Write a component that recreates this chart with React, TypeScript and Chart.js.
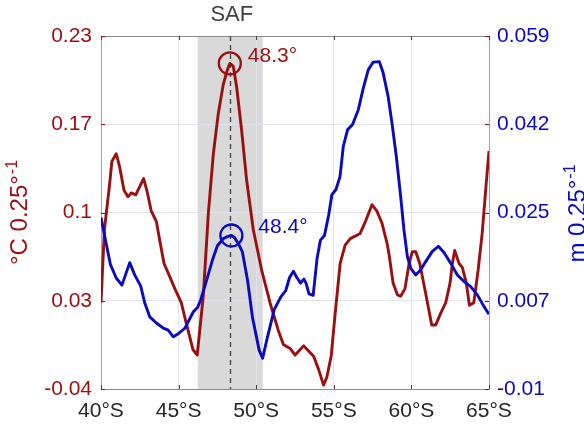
import { useEffect, useRef } from 'react';
import { Chart, registerables } from 'chart.js';

Chart.register(...registerables);

// Latitude axis (degrees south)
const LAT_MIN = 40;
const LAT_MAX = 65;
const LAT_TICKS = [40, 45, 50, 55, 60, 65];
const LAT_TICK_LABELS = ['40°S', '45°S', '50°S', '55°S', '60°S', '65°S'];

// Left axis: temperature gradient (°C per 0.25°)
const TEMP_MIN = -0.04;
const TEMP_MAX = 0.23;
const TEMP_TICK_LABELS = ['-0.04', '0.03', '0.1', '0.17', '0.23'];

// Right axis: sea-level gradient (m per 0.25°)
const SAL_MIN = -0.01;
const SAL_MAX = 0.059;
const SAL_TICK_LABELS = ['-0.01', '0.007', '0.025', '0.042', '0.059'];

// Temperature gradient profile
const TEMP_LAT = [
  40.0, 40.22, 40.54, 40.7, 40.98, 41.2, 41.48, 41.74, 41.95, 42.24, 42.5, 42.75,
  42.99, 43.24, 43.57, 43.78, 44.06, 44.43, 44.75, 45.17, 45.5, 45.93, 46.2, 46.59,
  46.92, 47.24, 47.56, 47.88, 48.14, 48.3, 48.52, 48.74, 49.06, 49.38, 49.81, 50.35,
  50.89, 51.42, 51.75, 52.18, 52.51, 53.05, 53.7, 54.02, 54.34, 54.55, 54.83, 55.09,
  55.41, 55.73, 56.06, 56.7, 57.07, 57.46, 57.78, 58.1, 58.42, 58.56, 58.82, 59.1,
  59.31, 59.59, 59.85, 60.06, 60.28, 60.54, 60.92, 61.31, 61.57, 61.89, 62.21, 62.49,
  62.64, 62.79, 63.07, 63.28, 63.54, 63.74, 64.02, 64.3, 64.56, 64.82, 65.0,
];
const TEMP_VALUES = [
  0.026, 0.082, 0.115, 0.134, 0.14, 0.13, 0.112, 0.107, 0.11, 0.1085, 0.115, 0.121,
  0.11, 0.096, 0.088, 0.074, 0.056, 0.046, 0.037, 0.026, 0.01, -0.01, -0.014, 0.031,
  0.095, 0.14, 0.171, 0.193, 0.204, 0.209, 0.207, 0.191, 0.158, 0.12, 0.082, 0.051,
  0.026, 0.005, -0.006, -0.009, -0.014, -0.007, -0.015, -0.025, -0.037, -0.031, -0.015, 0.018,
  0.056, 0.07, 0.075, 0.079, 0.089, 0.101, 0.096, 0.087, 0.072, 0.063, 0.041, 0.032,
  0.031, 0.037, 0.056, 0.065, 0.065, 0.056, 0.033, 0.009, 0.009, 0.018, 0.026, 0.041,
  0.056, 0.066, 0.056, 0.053, 0.041, 0.024, 0.026, 0.051, 0.079, 0.117, 0.142,
];

// Sea-level gradient profile
const SAL_LAT = [
  40.0, 40.33, 40.61, 40.98, 41.35, 41.85, 42.17, 42.56, 42.82, 43.14, 43.57, 44.01,
  44.33, 44.66, 44.98, 45.41, 45.95, 46.23, 46.42, 46.75, 47.18, 47.5, 47.88, 48.15,
  48.4, 48.6, 48.85, 49.11, 49.44, 49.76, 50.19, 50.41, 50.73, 51.16, 51.59, 51.91,
  52.15, 52.4, 52.62, 52.86, 53.08, 53.22, 53.4, 53.67, 53.92, 54.14, 54.4, 54.67,
  54.88, 55.14, 55.4, 55.61, 55.89, 56.21, 56.58, 56.9, 57.22, 57.54, 57.93, 58.18,
  58.5, 58.77, 59.03, 59.31, 59.52, 59.74, 59.96, 60.28, 60.6, 60.92, 61.35, 61.74,
  62.1, 62.53, 62.96, 63.39, 63.82, 64.25, 64.68, 65.0,
];
const SAL_VALUES = [
  0.0235, 0.0185, 0.0143, 0.0117, 0.0103, 0.0147, 0.0123, 0.0101, 0.0068, 0.0041, 0.0029, 0.0019,
  0.0015, 0.0002, 0.0008, 0.0019, 0.0051, 0.006, 0.0074, 0.0107, 0.0152, 0.018, 0.0194, 0.0198,
  0.02, 0.0196, 0.0184, 0.0168, 0.0113, 0.004, -0.0024, -0.004, 0.0002, 0.0055, 0.008, 0.0093,
  0.0118, 0.013, 0.0118, 0.0107, 0.0115, 0.0106, 0.0086, 0.0083, 0.0155, 0.0191, 0.02, 0.024,
  0.028, 0.029, 0.0315, 0.0374, 0.0407, 0.0417, 0.0446, 0.0488, 0.0524, 0.0539, 0.054, 0.0518,
  0.0472, 0.0415, 0.0354, 0.0276, 0.0211, 0.0159, 0.0136, 0.0123, 0.0133, 0.0149, 0.0169, 0.0179,
  0.0167, 0.0146, 0.0123, 0.011, 0.01, 0.0084, 0.0061, 0.0046,
];

// Subantarctic Front: shaded band, front position and the two peaks
const FRONT_NAME = 'SAF';
const FRONT_BAND = [46.23, 50.42];
const FRONT_LAT = 48.3;
const TEMP_PEAK_LAT = 48.3;
const TEMP_PEAK_VALUE = 0.209;
const SAL_PEAK_LAT = 48.4;
const SAL_PEAK_VALUE = 0.02;

const LEFT_TITLE = '°C 0.25°';
const RIGHT_TITLE = 'm 0.25°';
const TITLE_SUP = '-1';

const FONT = '"Liberation Sans", Arial, Helvetica, sans-serif';
const RED = '#9a1010';
const BLUE = '#0a0ac0';
const GRID = '#e2e2ee';
const FRAME = '#8c8c8c';

const toPoints = (xs: number[], ys: number[]) => xs.map((x, i) => ({ x, y: ys[i] }));

const evenTicks = (min: number, max: number, n: number) =>
  Array.from({ length: n }, (_, i) => ({ value: min + (i * (max - min)) / (n - 1) }));

function drawRotatedTitle(
  ctx: CanvasRenderingContext2D,
  baselineX: number,
  centerY: number,
  main: string,
  sup: string,
  color: string,
) {
  ctx.save();
  ctx.translate(baselineX, centerY);
  ctx.rotate(-Math.PI / 2);
  ctx.fillStyle = color;
  ctx.textBaseline = 'alphabetic';
  ctx.textAlign = 'left';
  ctx.font = `24px ${FONT}`;
  const w1 = ctx.measureText(main).width;
  ctx.font = `16px ${FONT}`;
  const w2 = ctx.measureText(sup).width;
  const start = -(w1 + w2 + 1) / 2;
  ctx.font = `24px ${FONT}`;
  ctx.fillText(main, start, 0);
  ctx.font = `16px ${FONT}`;
  ctx.fillText(sup, start + w1 + 1, -10);
  ctx.restore();
}

const frontDecor = {
  id: 'frontDecor',
  beforeDraw(chart: any) {
    const { ctx, chartArea: a, scales } = chart;
    const x0 = scales.x.getPixelForValue(FRONT_BAND[0]);
    const x1 = scales.x.getPixelForValue(FRONT_BAND[1]);
    ctx.save();
    ctx.fillStyle = '#d9d9d9';
    ctx.fillRect(x0, a.top, x1 - x0, a.bottom - a.top);
    ctx.restore();
  },
  beforeDatasetsDraw(chart: any) {
    const { ctx, chartArea: a, scales } = chart;
    ctx.save();
    // top frame line
    ctx.strokeStyle = FRAME;
    ctx.lineWidth = 1;
    ctx.beginPath();
    ctx.moveTo(a.left, a.top + 0.5);
    ctx.lineTo(a.right, a.top + 0.5);
    ctx.stroke();
    // inward tick marks along top and bottom
    ctx.strokeStyle = '#404040';
    LAT_TICKS.forEach((v) => {
      const px = Math.round(scales.x.getPixelForValue(v)) + 0.5;
      ctx.beginPath();
      ctx.moveTo(px, a.bottom);
      ctx.lineTo(px, a.bottom - 4);
      ctx.moveTo(px, a.top);
      ctx.lineTo(px, a.top + 4);
      ctx.stroke();
    });
    // inward tick marks along left and right
    ctx.strokeStyle = RED;
    scales.y.ticks.forEach((t: any) => {
      const py = Math.round(scales.y.getPixelForValue(t.value)) + 0.5;
      ctx.beginPath();
      ctx.moveTo(a.left, py);
      ctx.lineTo(a.left + 4, py);
      ctx.moveTo(a.right, py);
      ctx.lineTo(a.right - 4, py);
      ctx.stroke();
    });
    // front position
    const fx = Math.round(scales.x.getPixelForValue(FRONT_LAT)) + 0.5;
    ctx.strokeStyle = '#4a4a4a';
    ctx.lineWidth = 1.4;
    ctx.setLineDash([5, 4]);
    ctx.beginPath();
    ctx.moveTo(fx, a.top);
    ctx.lineTo(fx, a.bottom);
    ctx.stroke();
    ctx.restore();
  },
  afterDatasetsDraw(chart: any) {
    const { ctx, scales } = chart;
    ctx.save();
    ctx.font = `21px ${FONT}`;
    ctx.textBaseline = 'middle';
    ctx.textAlign = 'left';
    ctx.fillStyle = RED;
    ctx.fillText(
      `${TEMP_PEAK_LAT.toFixed(1)}°`,
      scales.x.getPixelForValue(TEMP_PEAK_LAT) + 18,
      scales.y.getPixelForValue(TEMP_PEAK_VALUE) - 7,
    );
    ctx.fillStyle = BLUE;
    ctx.fillText(
      `${SAL_PEAK_LAT.toFixed(1)}°`,
      scales.x.getPixelForValue(SAL_PEAK_LAT) + 27,
      scales.y1.getPixelForValue(SAL_PEAK_VALUE) - 8,
    );
    ctx.restore();
  },
  afterDraw(chart: any) {
    const { ctx, chartArea: a, scales } = chart;
    ctx.save();
    ctx.font = `22px ${FONT}`;
    ctx.fillStyle = '#404040';
    ctx.textAlign = 'center';
    ctx.textBaseline = 'middle';
    ctx.fillText(FRONT_NAME, scales.x.getPixelForValue(FRONT_LAT) + 2, 15);
    ctx.restore();
    const midY = (a.top + a.bottom) / 2;
    drawRotatedTitle(ctx, 27, midY, LEFT_TITLE, TITLE_SUP, RED);
    drawRotatedTitle(ctx, 585, midY + 1, RIGHT_TITLE, TITLE_SUP, BLUE);
  },
};

export default function App() {
  const canvasRef = useRef<HTMLCanvasElement | null>(null);

  useEffect(() => {
    const canvas = canvasRef.current;
    if (!canvas) return;
    const tickFont = { family: FONT, size: 21 };
    const chart = new Chart(canvas, {
      type: 'line',
      data: {
        datasets: [
          {
            label: 'temperature peak',
            data: [{ x: TEMP_PEAK_LAT, y: TEMP_PEAK_VALUE }],
            yAxisID: 'y',
            showLine: false,
            pointRadius: 11,
            pointBorderWidth: 2.3,
            pointBorderColor: RED,
            pointBackgroundColor: 'rgba(0,0,0,0)',
          },
          {
            label: 'sea-level peak',
            data: [{ x: SAL_PEAK_LAT, y: SAL_PEAK_VALUE }],
            yAxisID: 'y1',
            showLine: false,
            pointRadius: 11,
            pointBorderWidth: 2.3,
            pointBorderColor: BLUE,
            pointBackgroundColor: 'rgba(0,0,0,0)',
          },
          {
            label: 'sea-level gradient',
            data: toPoints(SAL_LAT, SAL_VALUES),
            yAxisID: 'y1',
            borderColor: BLUE,
            borderWidth: 2.9,
            pointRadius: 0,
            tension: 0,
            borderJoinStyle: 'round',
          },
          {
            label: 'temperature gradient',
            data: toPoints(TEMP_LAT, TEMP_VALUES),
            yAxisID: 'y',
            borderColor: RED,
            borderWidth: 2.9,
            pointRadius: 0,
            tension: 0,
            borderJoinStyle: 'round',
          },
        ],
      },
      options: {
        animation: false,
        responsive: false,
        events: [],
        layout: { padding: { top: 36, left: 0, right: 0, bottom: 0 } },
        plugins: { legend: { display: false }, tooltip: { enabled: false } },
        scales: {
          x: {
            type: 'linear',
            min: LAT_MIN,
            max: LAT_MAX,
            afterBuildTicks: (s: any) => {
              s.ticks = LAT_TICKS.map((value) => ({ value }));
            },
            afterFit: (s: any) => {
              s.height = 36;
            },
            ticks: {
              callback: (_v: any, i: number) => LAT_TICK_LABELS[i],
              color: '#262626',
              font: tickFont,
              padding: 10,
              maxRotation: 0,
              autoSkip: false,
            },
            grid: { color: GRID, drawTicks: false },
            border: { color: FRAME },
          },
          y: {
            type: 'linear',
            position: 'left',
            min: TEMP_MIN,
            max: TEMP_MAX,
            afterBuildTicks: (s: any) => {
              s.ticks = evenTicks(TEMP_MIN, TEMP_MAX, TEMP_TICK_LABELS.length);
            },
            afterFit: (s: any) => {
              s.width = 101;
            },
            ticks: {
              callback: (_v: any, i: number) => TEMP_TICK_LABELS[i],
              color: RED,
              font: tickFont,
              padding: 9,
              autoSkip: false,
            },
            grid: { color: GRID, drawTicks: false },
            border: { color: '#cf9090' },
          },
          y1: {
            type: 'linear',
            position: 'right',
            min: SAL_MIN,
            max: SAL_MAX,
            afterBuildTicks: (s: any) => {
              s.ticks = evenTicks(SAL_MIN, SAL_MAX, SAL_TICK_LABELS.length);
            },
            afterFit: (s: any) => {
              s.width = 95;
            },
            ticks: {
              callback: (_v: any, i: number) => SAL_TICK_LABELS[i],
              color: BLUE,
              font: tickFont,
              padding: 8,
              autoSkip: false,
            },
            grid: { display: false, drawTicks: false },
            border: { color: '#9a9ae8' },
          },
        },
      },
      plugins: [frontDecor],
    } as any);
    return () => chart.destroy();
  }, []);

  return (
    <div style={{ position: 'absolute', left: 0, top: 0, width: 584, height: 425, background: '#fff' }}>
      <canvas ref={canvasRef} width={584} height={425} style={{ display: 'block' }} />
    </div>
  );
}
